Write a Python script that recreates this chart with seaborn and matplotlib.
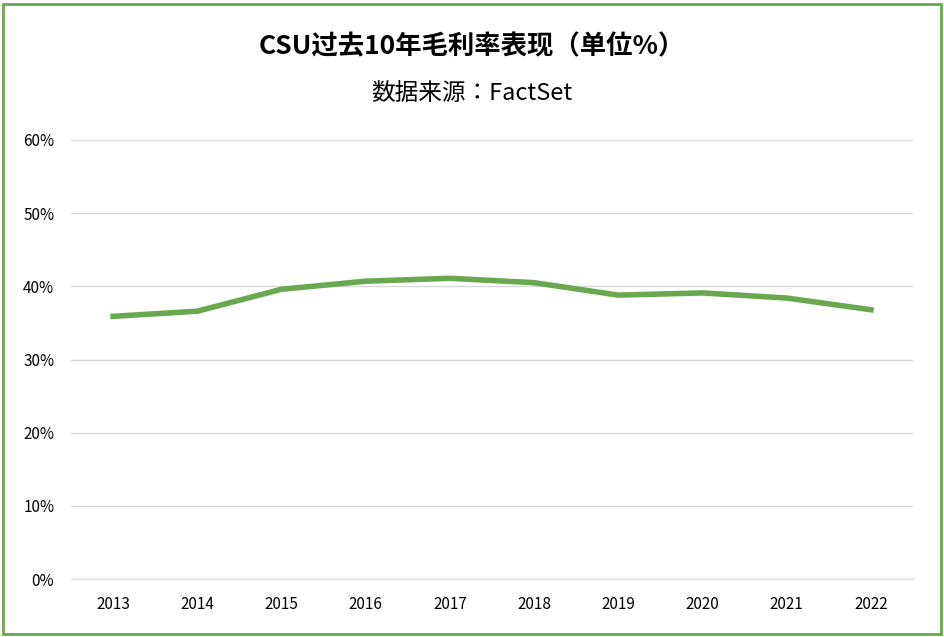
import matplotlib.pyplot as plt
import matplotlib.patches as mpatches
import seaborn as sns
import pandas as pd

years = ['2013', '2014', '2015', '2016', '2017', '2018', '2019', '2020', '2021', '2022']
margin = [35.9, 36.6, 39.6, 40.7, 41.1, 40.5, 38.8, 39.1, 38.4, 36.8]

df = pd.DataFrame({'year': years, 'margin': margin})
cjk = ['Noto Sans CJK JP', 'Noto Sans CJK SC', 'Noto Sans CJK TC', 'Noto Sans CJK KR', 'DejaVu Sans']
plt.rcParams['font.family'] = 'sans-serif'
plt.rcParams['font.sans-serif'] = cjk

fig = plt.figure(figsize=(9.44, 6.37), dpi=100)
ax = fig.add_axes([71/944, 1 - 579/637, (913-71)/944, (579-140)/637])
sns.lineplot(data=df, x='year', y='margin', color='#6aa84f', linewidth=4, ax=ax, sort=False)

ax.set_xlim(-0.5, len(years) - 0.5)
ax.set_ylim(0, 60)
ax.set_yticks(range(0, 61, 10))
ax.set_yticklabels([f'{v}%' for v in range(0, 61, 10)])
ax.grid(axis='y', color='#d9d9d9', linewidth=1)
ax.set_axisbelow(True)
for s in ['top', 'right', 'left']:
    ax.spines[s].set_visible(False)
ax.spines['bottom'].set_color('#d9d9d9')
ax.tick_params(length=0, labelsize=11, pad=12)
ax.set_xlabel('')
ax.set_ylabel('')

fig.text(0.5, 1 - 47/637, 'CSU过去10年毛利率表现（单位%）', ha='center', va='center',
         fontsize=19, fontweight='bold', fontfamily=cjk)
fig.text(0.5, 1 - 93/637, '数据来源：FactSet', ha='center', va='center', fontsize=17,
         fontfamily=cjk)

fig.patches.append(mpatches.Rectangle((0.003, 0.004), 0.994, 0.99, transform=fig.transFigure,
                                      fill=False, edgecolor='#6aa84f', linewidth=2))
fig.savefig('out.png', dpi=100)
